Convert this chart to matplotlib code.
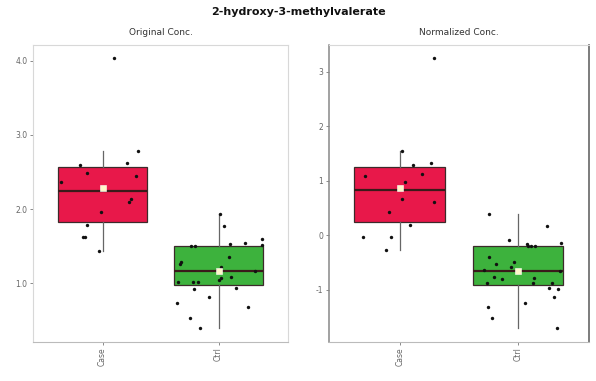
import numpy as np
import matplotlib
matplotlib.use("Agg")
import matplotlib.pyplot as plt

# Group labels and colours
groups = ["Case", "Ctrl"]
group_colors = ["#E8184A", "#3DB23D"]

# Original concentrations per group
orig_case = [4.03, 2.78, 2.62, 2.59, 2.48, 2.45, 2.36, 2.14, 2.09, 1.96,
             1.78, 1.62, 1.62, 1.44]
orig_ctrl = [1.93, 1.77, 1.59, 1.54, 1.53, 1.51, 1.50, 1.50, 1.35, 1.28,
             1.26, 1.22, 1.18, 1.16, 1.08, 1.07, 1.05, 1.01, 1.01, 1.01,
             0.93, 0.92, 0.81, 0.73, 0.68, 0.53, 0.39]

# Normalized (auto-scaled) concentrations per group
norm_case = [3.24, 1.54, 1.33, 1.28, 1.13, 1.09, 0.97, 0.67, 0.60, 0.43,
             0.18, -0.04, -0.04, -0.28]
norm_ctrl = [0.39, 0.17, -0.08, -0.14, -0.16, -0.19, -0.20, -0.20, -0.40, -0.50,
             -0.53, -0.58, -0.63, -0.66, -0.77, -0.78, -0.81, -0.87, -0.87, -0.87,
             -0.97, -0.99, -1.14, -1.25, -1.31, -1.52, -1.71]

orig_ticks = [1, 2, 3, 4]
orig_tick_labels = ["1.0", "2.0", "3.0", "4.0"]
norm_ticks = [-1, 0, 1, 2, 3]
norm_tick_labels = ["-1", "0", "1", "2", "3"]

title = "2-hydroxy-3-methylvalerate"
panel_titles = ["Original Conc.", "Normalized Conc."]

fig = plt.figure(figsize=(5.96, 3.81), dpi=100)
fig.text(0.5, 0.968, title, ha="center", va="center", fontsize=8,
         fontweight="bold", color="#111111")

ax_l = fig.add_axes([0.0554, 0.1024, 0.428, 0.7795])
ax_r = fig.add_axes([0.552, 0.1024, 0.436, 0.7795])

rng = np.random.default_rng(7)


def draw_panel(ax, data, ticks, tick_labels, ptitle, spine_col):
    positions = np.arange(1, len(data) + 1)
    bp = ax.boxplot(data, positions=positions, widths=0.77, patch_artist=True,
                    showfliers=False, whis=1.5,
                    medianprops=dict(color="#3a1a1a", linewidth=1.6),
                    whiskerprops=dict(color="#666666", linewidth=0.9),
                    capprops=dict(linewidth=0),
                    boxprops=dict(linewidth=0.9))
    for patch, col in zip(bp["boxes"], group_colors):
        patch.set_facecolor(col)
        patch.set_edgecolor("#3c2a2a")
    for pos, vals in zip(positions, data):
        vals = np.asarray(vals)
        jx = pos + rng.uniform(-0.36, 0.38, size=len(vals))
        ax.scatter(jx, vals, s=6, color="#111111", zorder=4, linewidths=0)
        ax.scatter([pos], [vals.mean()], s=14, marker="s", color="#FFF7C8",
                   edgecolors="#FFFFFF", linewidths=0.4, zorder=5)
    lo = min(min(v) for v in data)
    hi = max(max(v) for v in data)
    pad = (hi - lo) * 0.05
    ax.set_ylim(lo - pad, hi + pad)
    ax.set_xlim(0.4, len(data) + 0.6)
    ax.set_xticks(positions)
    ax.set_xticklabels(groups, rotation=90, fontsize=5.5, color="#555555")
    ax.set_yticks(ticks)
    ax.set_yticklabels(tick_labels, fontsize=5.5, color="#555555")
    ax.tick_params(axis="both", length=2, width=0.6, colors="#777777",
                   labelcolor="#666666", pad=2)
    for s in ax.spines.values():
        s.set_color(spine_col)
        s.set_linewidth(0.8)
    ax.set_title(ptitle, fontsize=6.5, color="#333333", pad=7)


draw_panel(ax_l, [orig_case, orig_ctrl], orig_ticks, orig_tick_labels,
           panel_titles[0], "#d8d8d8")
draw_panel(ax_r, [norm_case, norm_ctrl], norm_ticks, norm_tick_labels,
           panel_titles[1], "#d8d8d8")
ax_r.spines["left"].set_color("#888888")
ax_r.spines["left"].set_linewidth(1.1)
ax_r.spines["right"].set_color("#666666")
ax_r.spines["right"].set_linewidth(1.2)
ax_l.spines["bottom"].set_color("#bbbbbb")
ax_r.spines["bottom"].set_color("#bbbbbb")

fig.savefig("out.png", dpi=100)
